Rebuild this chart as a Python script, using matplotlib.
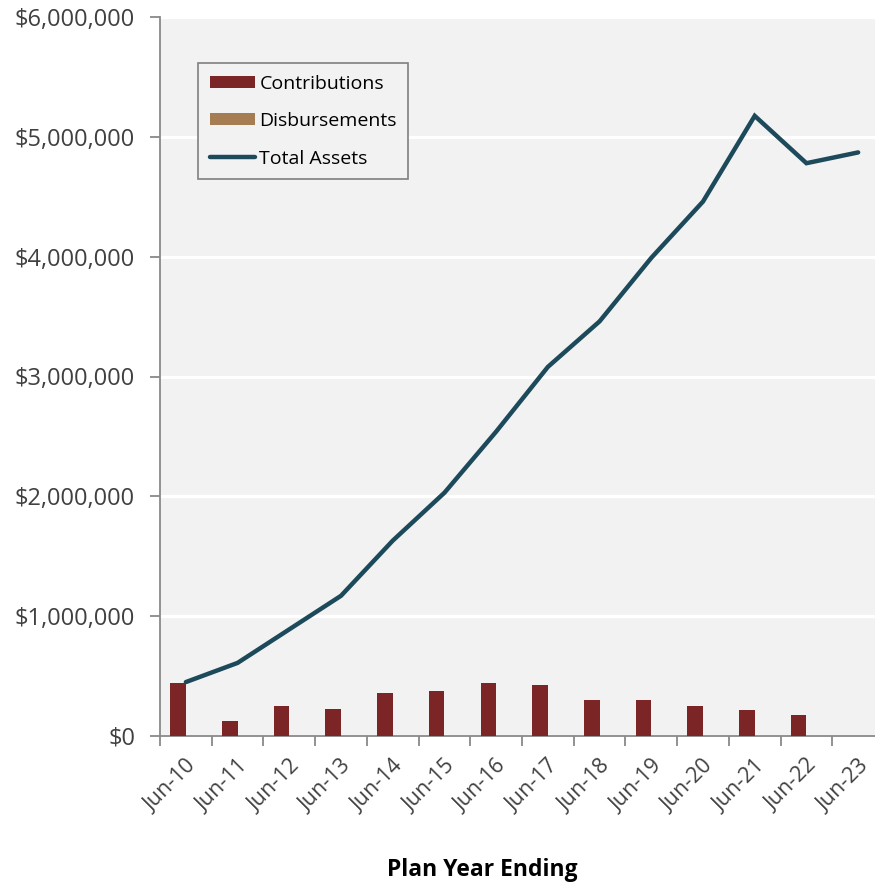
import matplotlib
matplotlib.use('Agg')
from matplotlib import pyplot as plt
from matplotlib.ticker import FuncFormatter
import numpy as np

years = ['Jun-10', 'Jun-11', 'Jun-12', 'Jun-13', 'Jun-14', 'Jun-15', 'Jun-16',
         'Jun-17', 'Jun-18', 'Jun-19', 'Jun-20', 'Jun-21', 'Jun-22', 'Jun-23']
contributions = [445000, 125000, 250000, 225000, 360000, 375000, 445000,
                 425000, 298000, 297000, 248000, 217000, 173000, 0]
disbursements = [0, 0, 0, 0, 0, 0, 0, 0, 0, 0, 0, 0, 0, 0]
total_assets = [450000, 610000, 890000, 1170000, 1630000, 2030000, 2540000,
                3080000, 3460000, 3990000, 4460000, 5175000, 4780000, 4870000]

plt.rcParams['font.family'] = ['Open Sans', 'DejaVu Sans']

fig = plt.figure(figsize=(8.75, 8.84), dpi=100)
ax = fig.add_axes([160 / 875, (884 - 736) / 884, 724 / 875, 719 / 884])
ax.set_facecolor('#F2F2F2')

x = np.arange(len(years))
w = 0.3
b1 = ax.bar(x - w / 2, contributions, w, color='#7B2527', label='Contributions', zorder=3)
b2 = ax.bar(x + w / 2, disbursements, w, color='#A67C52', label='Disbursements', zorder=3)
l1, = ax.plot(x, total_assets, color='#1D4A5A', linewidth=3.2, label='Total Assets',
              solid_capstyle='round', solid_joinstyle='miter', zorder=4)

ax.set_xlim(-0.5, len(years) - 0.5)
ax.set_ylim(0, 6000000)
ax.set_yticks(np.arange(0, 6000001, 1000000))
ax.yaxis.set_major_formatter(FuncFormatter(lambda v, p: '${:,.0f}'.format(v)))
ax.yaxis.grid(True, color='white', linewidth=2.3, zorder=1)
ax.set_axisbelow(True)

ax.set_xticks(np.arange(-0.5, len(years) - 0.4, 1))
ax.set_xticklabels([])
ax.set_xticks(x, minor=True)
ax.set_xticklabels(years, minor=True, rotation=45, ha='right', va='top',
                   rotation_mode='anchor', fontsize=15.5, color='#404040')
ax.tick_params(axis='x', which='minor', length=0, pad=14)
ax.tick_params(axis='x', which='major', length=7, color='#898989', width=1.3)
ax.tick_params(axis='y', length=7, color='#898989', width=1.3, labelsize=17,
               labelcolor='#404040', pad=11)

for s in ['top', 'right']:
    ax.spines[s].set_visible(False)
for s in ['left', 'bottom']:
    ax.spines[s].set_color('#898989')
    ax.spines[s].set_linewidth(1.3)

fig.text(482 / 875, 1 - 870 / 884, 'Plan Year Ending', fontsize=16.5,
         fontweight='bold', ha='center', va='center')

leg = ax.legend([b1, b2, l1], ['Contributions', 'Disbursements', 'Total Assets'],
                loc='upper left', bbox_to_anchor=(0.0525, 0.936), fontsize=14,
                frameon=True, fancybox=False, edgecolor='#7F7F7F',
                facecolor='#F2F2F2', framealpha=1, handlelength=2.35,
                handleheight=0.6, borderaxespad=0, labelspacing=1.0,
                handletextpad=0.2, borderpad=0.6)
leg.get_frame().set_linewidth(1.2)

fig.savefig('out.png', dpi=100)
